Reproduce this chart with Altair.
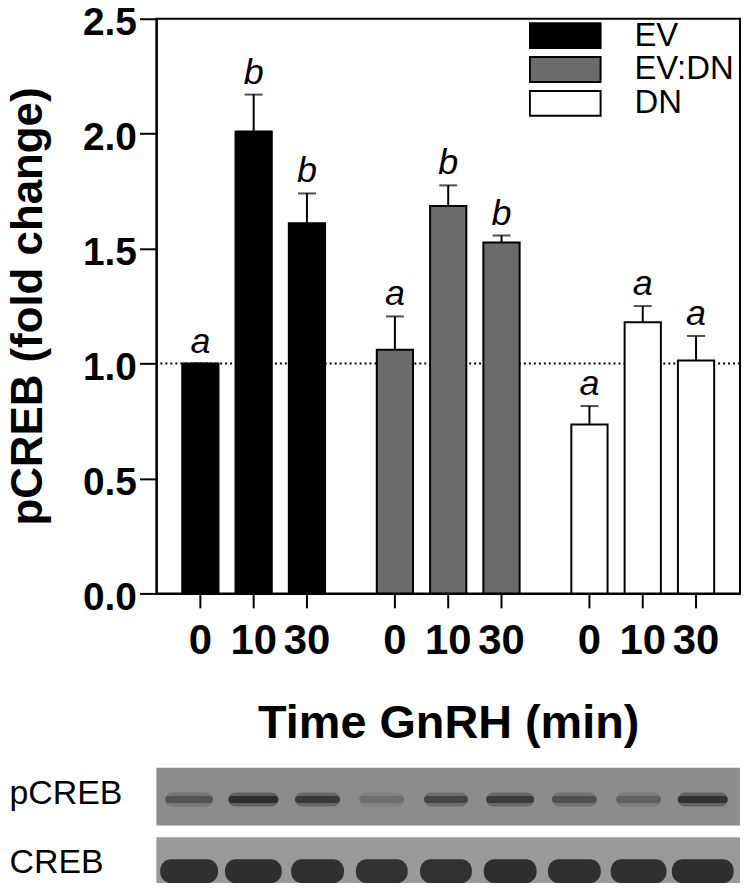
import altair as alt
import pandas as pd

# ---------------- data ----------------
groups = ["EV", "EV:DN", "DN"]
times = ["0", "10", "30"]
means = [1.00, 2.01, 1.61, 1.06, 1.685, 1.527, 0.735, 1.18, 1.013]
sems = [0.0, 0.16, 0.13, 0.145, 0.09, 0.03, 0.08, 0.07, 0.107]
letters = ["a", "b", "b", "a", "b", "b", "a", "a", "a"]

blot_rows = ["pCREB", "CREB"]
lanes = [1, 2, 3, 4, 5, 6, 7, 8, 9]
pcreb_signal = [0.45, 0.9, 0.75, 0.22, 0.62, 0.72, 0.5, 0.35, 0.85]
pcreb_width = [48, 50, 45, 45, 44, 48, 45, 45, 50]
creb_signal = [0.95, 0.97, 0.95, 0.93, 0.94, 0.96, 0.95, 0.95, 0.97]
creb_width = [58, 57, 53, 52, 52, 53, 53, 56, 62]

# ---------------- layout / style ----------------
FONT = "Liberation Sans"
W, H = 586, 577
BLOT_H = 128
group_colors = ["#000000", "#6b6b6b", "#ffffff"]

rows = []
k = 0
for g in groups:
    for t in times:
        rows.append({"group": g, "time": t, "mean": means[k],
                     "upper": means[k] + sems[k], "letter": letters[k]})
        k += 1
df = pd.DataFrame(rows)
df_ref = pd.DataFrame({"ref": [1.0]})

x_enc = alt.X("group:N", sort=groups,
              scale=alt.Scale(paddingInner=0, paddingOuter=0),
              axis=alt.Axis(title="Time GnRH (min)", labels=False, ticks=False,
                            domainColor="black", domainWidth=2,
                            titleFont=FONT, titleFontSize=47, titleFontWeight="bold",
                            titleColor="black", titlePadding=108))
xo_enc = alt.XOffset("time:N", sort=times,
                     scale=alt.Scale(paddingInner=0.32, paddingOuter=0.485))
y_scale = alt.Scale(domain=[0, 2.5], nice=False, zero=True)
y_axis = alt.Axis(title="pCREB (fold change)", values=[0, 0.5, 1, 1.5, 2, 2.5],
                  format=".1f", grid=False, tickSize=17, tickWidth=2, tickColor="black",
                  domainColor="black", domainWidth=2,
                  labelFont=FONT, labelFontSize=39, labelFontWeight="bold",
                  labelColor="black", labelPadding=3, labelOffset=4,
                  titleFont=FONT, titleFontSize=44, titleFontWeight="bold",
                  titleColor="black", titlePadding=32)


def Y(field):
    return alt.Y(field, type="quantitative", scale=y_scale, axis=y_axis)


ref = alt.Chart(df_ref).mark_rule(color="black", strokeWidth=2, strokeDash=[2, 3]).encode(
    y=Y("ref"))

legend = alt.Legend(title=None, orient="none", legendX=374, legendY=0,
                    symbolType="M-1,-0.352H1V0.352H-1Z", symbolSize=5041,
                    symbolStrokeColor="black", symbolStrokeWidth=2, symbolOpacity=1,
                    labelFont=FONT, labelFontSize=33, labelColor="black",
                    labelOffset=33, clipHeight=34, rowPadding=0, padding=0)

bars = alt.Chart(df).mark_bar(stroke="black", strokeWidth=2).encode(
    x=x_enc, xOffset=xo_enc, y=Y("mean"),
    color=alt.Color("group:N", scale=alt.Scale(domain=groups, range=group_colors),
                    legend=legend))

err = alt.Chart(df).mark_rule(color="black", strokeWidth=2).encode(
    x=x_enc, xOffset=xo_enc, y=Y("mean"), y2="upper")

cap = alt.Chart(df).mark_tick(color="black", size=18, thickness=2).encode(
    x=x_enc, xOffset=xo_enc, y=Y("upper"))

lett = alt.Chart(df).mark_text(font=FONT, fontSize=36, fontStyle="italic",
                               baseline="alphabetic", dy=-11, color="black").encode(
    x=x_enc, xOffset=xo_enc, y=Y("upper"), text="letter:N")

xticks = alt.Chart(df).mark_rule(color="black", strokeWidth=2).encode(
    x=x_enc, xOffset=xo_enc, y=alt.value(H), y2=alt.value(H + 15))

xlabels = alt.Chart(df).mark_text(font=FONT, fontSize=42, fontWeight="bold",
                                  baseline="top", color="black").encode(
    x=x_enc, xOffset=xo_enc, y=alt.value(H + 28), text="time:N")

main = alt.layer(ref, bars, err, cap, lett, xticks, xlabels).properties(
    width=W, height=H, view=alt.ViewBackground(stroke="black", strokeWidth=2))

# ---------------- blot ----------------
X0, X1 = 0.49, 9.58
px_per_lane = W / (X1 - X0)
strip_df = pd.DataFrame({"row": blot_rows, "x0": [X0, X0], "x1": [X1, X1]})
brows = []
for i, ln in enumerate(lanes):
    brows.append({"row": "pCREB", "xs": ln - pcreb_width[i] / 2 / px_per_lane,
                  "xe": ln + pcreb_width[i] / 2 / px_per_lane,
                  "o1": pcreb_signal[i] * 0.45, "o2": pcreb_signal[i] * 0.85})
    brows.append({"row": "CREB", "xs": ln - creb_width[i] / 2 / px_per_lane,
                  "xe": ln + creb_width[i] / 2 / px_per_lane,
                  "o1": creb_signal[i], "o2": creb_signal[i]})
band_df = pd.DataFrame(brows)

bx = alt.Scale(domain=[X0, X1], nice=False, zero=False)
by = alt.Y("row:N", sort=blot_rows,
           scale=alt.Scale(paddingInner=0.17, paddingOuter=0),
           axis=alt.Axis(title=None, domain=False, ticks=False, tickSize=0,
                         labelAlign="left", labelPadding=148, labelFont=FONT,
                         labelFontSize=34, labelColor="black", labelOffset=-3))

strip_p = alt.Chart(strip_df).transform_filter(alt.datum.row == "pCREB").mark_rect(
    color="#8c8c8c").encode(x=alt.X("x0:Q", scale=bx, axis=None), x2="x1", y=by)
strip_c = alt.Chart(strip_df).transform_filter(alt.datum.row == "CREB").mark_rect(
    color="#999999").encode(x=alt.X("x0:Q", scale=bx, axis=None), x2="x1", y=by)

p_outer = alt.Chart(band_df).transform_filter(alt.datum.row == "pCREB").mark_bar(
    height=14, cornerRadius=7, color="#202020", yOffset=3).encode(
    x=alt.X("xs:Q", scale=bx, axis=None), x2="xe", y=by,
    opacity=alt.Opacity("o1:Q", scale=None, legend=None))
p_inner = alt.Chart(band_df).transform_filter(alt.datum.row == "pCREB").mark_bar(
    height=7, cornerRadius=3, color="#202020", yOffset=3).encode(
    x=alt.X("xs:Q", scale=bx, axis=None), x2="xe", y=by,
    opacity=alt.Opacity("o2:Q", scale=None, legend=None))
c_band = alt.Chart(band_df).transform_filter(alt.datum.row == "CREB").mark_bar(
    height=24, cornerRadius=11, color="#2a2a2a", yOffset=5).encode(
    x=alt.X("xs:Q", scale=bx, axis=None), x2="xe", y=by,
    opacity=alt.Opacity("o1:Q", scale=None, legend=None))

blot = alt.layer(strip_p, strip_c, p_outer, p_inner, c_band).properties(
    width=W, height=BLOT_H)

chart = alt.vconcat(main, blot, spacing=20).properties(
    padding={"left": -3, "top": -7, "right": 0, "bottom": -14}
).configure_view(stroke=None)

chart.save("out.html", embed_options={"renderer": "svg", "actions": False})
